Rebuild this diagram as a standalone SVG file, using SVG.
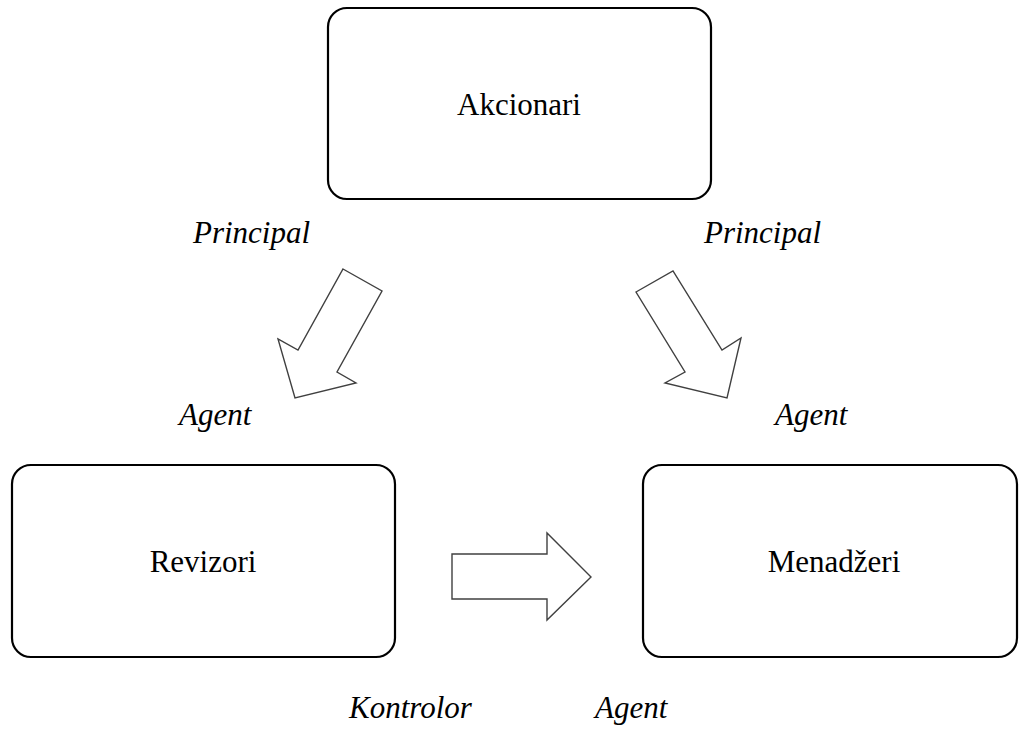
<svg xmlns="http://www.w3.org/2000/svg" width="1019" height="731" viewBox="0 0 1019 731">
<style>
.box{fill:#fff;stroke:#000;stroke-width:2.2}
.arr{fill:#fff;stroke:#404040;stroke-width:1.4;stroke-linejoin:miter}
text{font-family:'Liberation Serif','Times New Roman',serif;font-size:31px;fill:#000}
.i{font-style:italic}
</style>
<rect width="1019" height="731" fill="#fff"/>
<g id="akcionari">
<rect class="box" x="328" y="8" width="383" height="191" rx="19"/>
<text x="519" y="115" text-anchor="middle">Akcionari</text>
</g>
<g id="revizori">
<rect class="box" x="12" y="465" width="383" height="192" rx="19"/>
<text x="203" y="572" text-anchor="middle">Revizori</text>
</g>
<g id="menadzeri">
<rect class="box" x="643" y="465" width="374" height="192" rx="19"/>
<text x="834" y="572" text-anchor="middle">Menadžeri</text>
</g>
<g id="labels">
<text class="i" x="193" y="243">Principal</text>
<text class="i" x="704" y="243">Principal</text>
<text class="i" x="179" y="425">Agent</text>
<text class="i" x="775" y="425">Agent</text>
<text class="i" x="349" y="718">Kontrolor</text>
<text class="i" x="595" y="718">Agent</text>
</g>
<g id="connectors">
<polygon class="arr" points="343,269 382,291 337,372 356,383 295,398 278,339 298,350"/>
<polygon class="arr" points="636,292 673,271 722,350 741,338 727,398 665,383 685,372"/>
<polygon class="arr" points="452,554 547,554 547,533 591,577 547,620 547,599 452,599"/>
</g>
</svg>
